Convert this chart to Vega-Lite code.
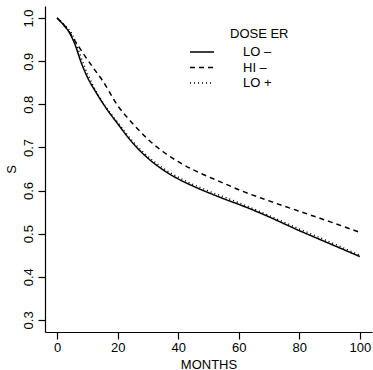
{
  "$schema": "https://vega.github.io/schema/vega-lite/v6.json",
  "width": 327,
  "height": 326,
  "autosize": "none",
  "padding": {"left": 45, "top": 6, "right": 1, "bottom": 38},
  "background": "white",
  "config": {
    "view": {"stroke": null},
    "font": "Liberation Sans",
    "axis": {"grid": false, "domainColor": "black", "tickColor": "black", "labelColor": "black", "titleColor": "black", "domainWidth": 1.2, "tickWidth": 1.2, "tickSize": 7, "labelFontSize": 13, "titleFontSize": 13, "titleFontWeight": "normal", "labelFont": "Liberation Sans", "titleFont": "Liberation Sans"}
  },
  "data": {"values": [
    {"m": 0, "s": 1.0, "g": "LO –"},
    {"m": 2, "s": 0.985, "g": "LO –"},
    {"m": 4, "s": 0.967, "g": "LO –"},
    {"m": 6, "s": 0.937, "g": "LO –"},
    {"m": 8, "s": 0.896, "g": "LO –"},
    {"m": 10, "s": 0.863, "g": "LO –"},
    {"m": 13, "s": 0.826, "g": "LO –"},
    {"m": 16, "s": 0.793, "g": "LO –"},
    {"m": 20, "s": 0.755, "g": "LO –"},
    {"m": 25, "s": 0.71, "g": "LO –"},
    {"m": 30, "s": 0.675, "g": "LO –"},
    {"m": 35, "s": 0.648, "g": "LO –"},
    {"m": 40, "s": 0.627, "g": "LO –"},
    {"m": 45, "s": 0.61, "g": "LO –"},
    {"m": 50, "s": 0.595, "g": "LO –"},
    {"m": 55, "s": 0.581, "g": "LO –"},
    {"m": 60, "s": 0.568, "g": "LO –"},
    {"m": 65, "s": 0.554, "g": "LO –"},
    {"m": 70, "s": 0.539, "g": "LO –"},
    {"m": 75, "s": 0.523, "g": "LO –"},
    {"m": 80, "s": 0.507, "g": "LO –"},
    {"m": 85, "s": 0.492, "g": "LO –"},
    {"m": 90, "s": 0.477, "g": "LO –"},
    {"m": 95, "s": 0.462, "g": "LO –"},
    {"m": 100, "s": 0.447, "g": "LO –"},
    {"m": 0, "s": 1.0, "g": "HI –"},
    {"m": 3, "s": 0.978, "g": "HI –"},
    {"m": 6, "s": 0.946, "g": "HI –"},
    {"m": 9, "s": 0.914, "g": "HI –"},
    {"m": 12, "s": 0.884, "g": "HI –"},
    {"m": 15, "s": 0.855, "g": "HI –"},
    {"m": 20, "s": 0.797, "g": "HI –"},
    {"m": 25, "s": 0.755, "g": "HI –"},
    {"m": 30, "s": 0.719, "g": "HI –"},
    {"m": 35, "s": 0.69, "g": "HI –"},
    {"m": 40, "s": 0.667, "g": "HI –"},
    {"m": 45, "s": 0.648, "g": "HI –"},
    {"m": 50, "s": 0.632, "g": "HI –"},
    {"m": 55, "s": 0.617, "g": "HI –"},
    {"m": 60, "s": 0.602, "g": "HI –"},
    {"m": 70, "s": 0.576, "g": "HI –"},
    {"m": 80, "s": 0.552, "g": "HI –"},
    {"m": 90, "s": 0.528, "g": "HI –"},
    {"m": 100, "s": 0.503, "g": "HI –"},
    {"m": 0, "s": 1.0, "g": "LO +"},
    {"m": 3, "s": 0.98, "g": "LO +"},
    {"m": 5, "s": 0.962, "g": "LO +"},
    {"m": 7, "s": 0.927, "g": "LO +"},
    {"m": 9, "s": 0.888, "g": "LO +"},
    {"m": 12, "s": 0.842, "g": "LO +"},
    {"m": 16, "s": 0.795, "g": "LO +"},
    {"m": 20, "s": 0.758, "g": "LO +"},
    {"m": 25, "s": 0.714, "g": "LO +"},
    {"m": 30, "s": 0.679, "g": "LO +"},
    {"m": 35, "s": 0.652, "g": "LO +"},
    {"m": 40, "s": 0.631, "g": "LO +"},
    {"m": 50, "s": 0.599, "g": "LO +"},
    {"m": 60, "s": 0.572, "g": "LO +"},
    {"m": 70, "s": 0.542, "g": "LO +"},
    {"m": 80, "s": 0.511, "g": "LO +"},
    {"m": 90, "s": 0.481, "g": "LO +"},
    {"m": 100, "s": 0.45, "g": "LO +"}
  ]},
  "mark": {"type": "line", "color": "black", "strokeWidth": 1.5, "interpolate": "monotone"},
  "encoding": {
    "x": {"field": "m", "type": "quantitative", "title": "MONTHS",
      "scale": {"domain": [-4, 104], "nice": false, "zero": false},
      "axis": {"values": [0, 20, 40, 60, 80, 100], "labelPadding": 2, "titlePadding": 4, "labelFlush": false}},
    "y": {"field": "s", "type": "quantitative", "title": "S",
      "scale": {"domain": [0.272, 1.028], "nice": false, "zero": false},
      "axis": {"values": [0.3, 0.4, 0.5, 0.6, 0.7, 0.8, 0.9, 1.0], "format": ".1f", "labelAngle": 270, "labelAlign": "center", "labelBaseline": "bottom", "labelPadding": 3, "titlePadding": 4, "labelFlush": false}},
    "strokeDash": {"field": "g", "type": "nominal",
      "scale": {"domain": ["LO –", "HI –", "LO +"], "range": [[1, 0], [5, 4], [1, 3]]},
      "legend": {"title": "DOSE ER", "orient": "none", "legendX": 144, "legendY": 22, "padding": 0,
        "symbolType": "M-1,0H3", "symbolSize": 144, "symbolStrokeColor": "black", "symbolFillColor": "transparent", "symbolStrokeWidth": 1.5,
        "labelOffset": 40, "labelFontSize": 13, "labelColor": "black", "labelFont": "Liberation Sans",
        "titleFontSize": 13, "titleFontWeight": "normal", "titleColor": "black", "titleFont": "Liberation Sans",
        "titleAnchor": "middle", "titleAlign": "left", "titlePadding": 4, "rowPadding": 1.5}}
  }
}
